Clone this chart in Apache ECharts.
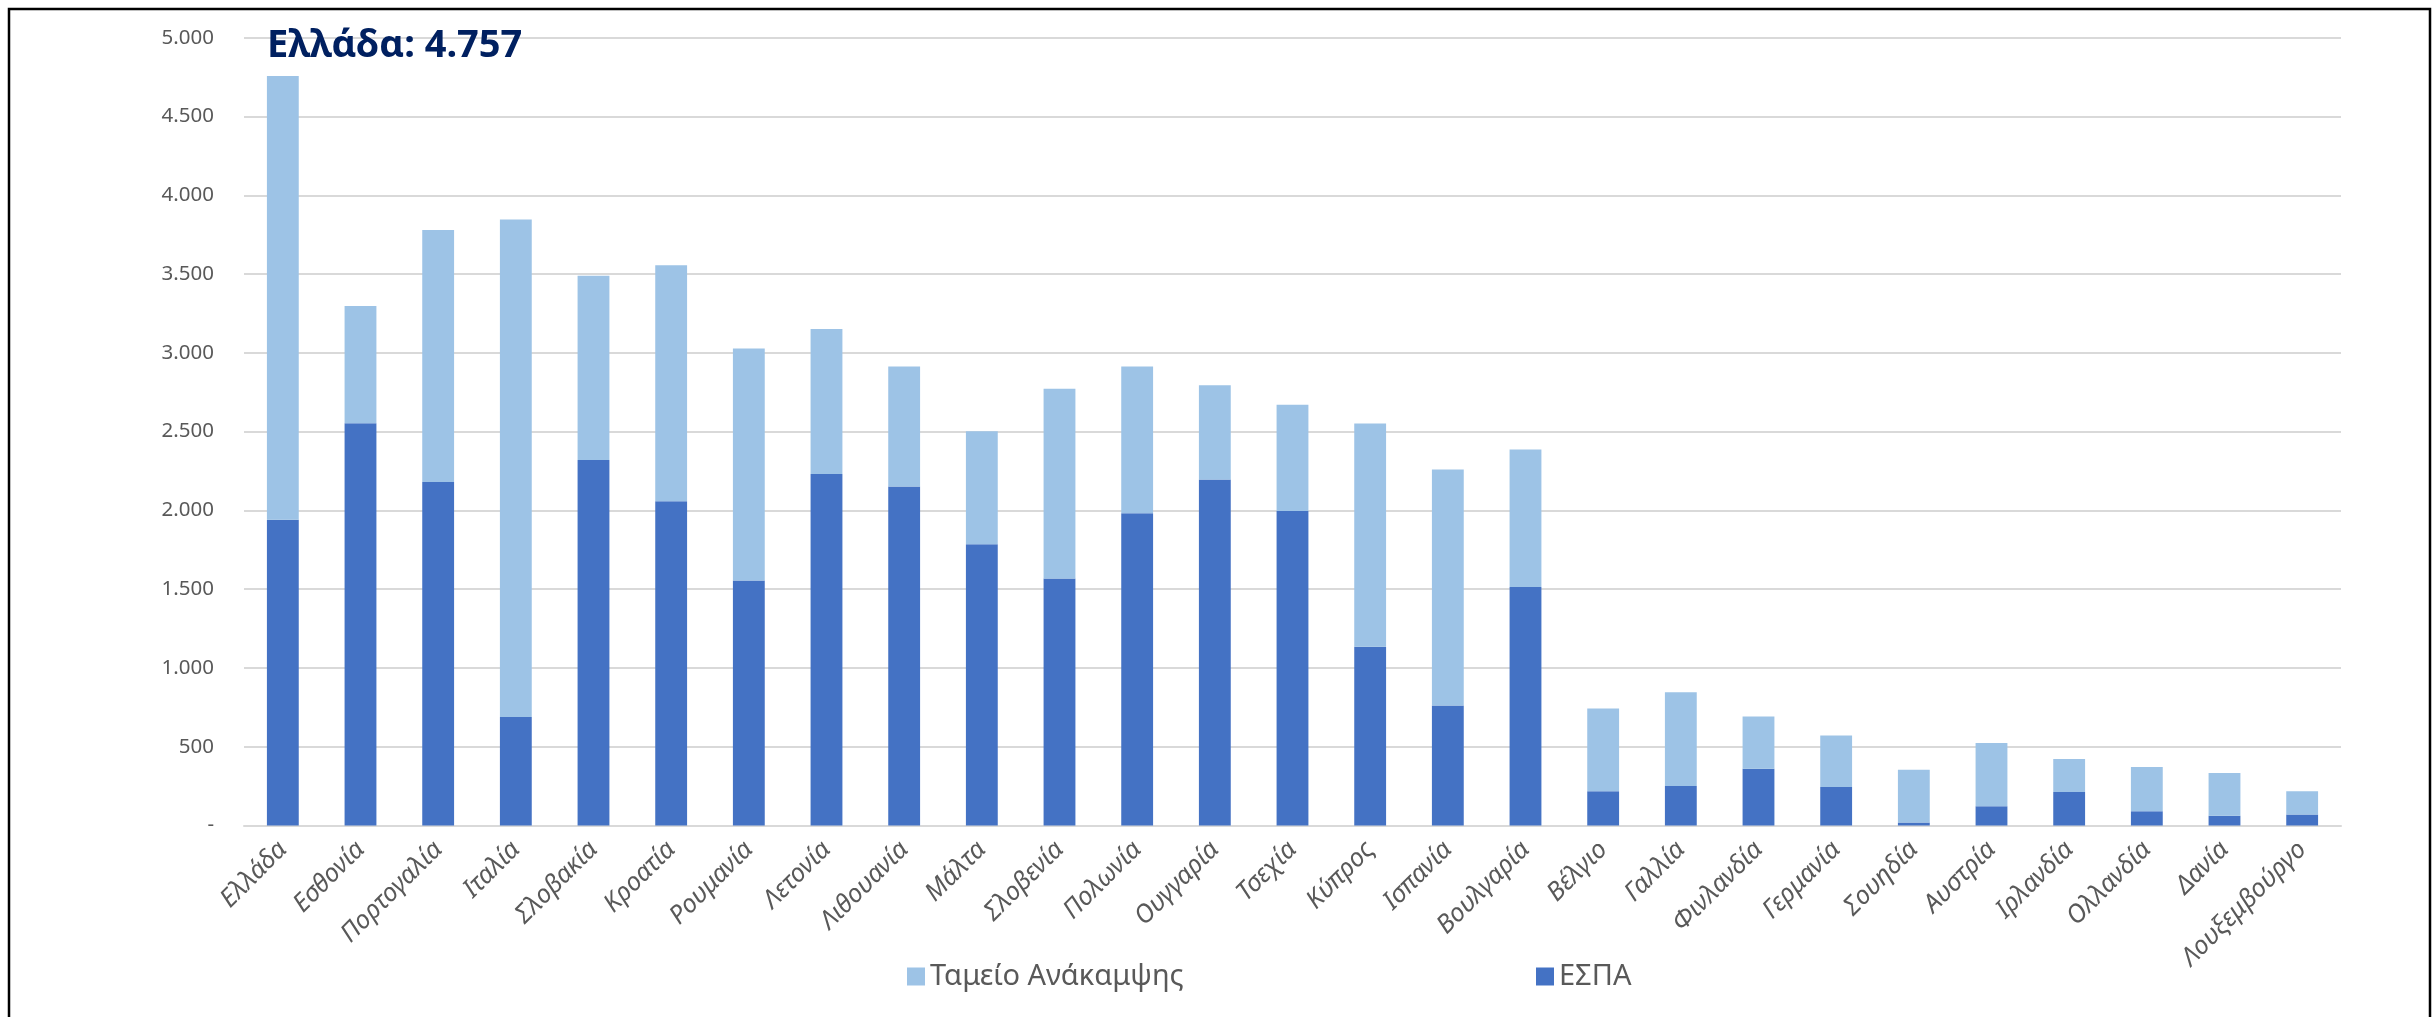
<!DOCTYPE html>
<html>
<head>
<meta charset="utf-8">
<script src="https://cdn.jsdelivr.net/npm/echarts@6/dist/echarts.min.js"></script>
<style>
html,body{margin:0;padding:0;background:#fff;}
#chart{width:2433px;height:1017px;}
</style>
</head>
<body>
<div id="chart"></div>
<script>
const categories = ['Ελλάδα','Εσθονία','Πορτογαλία','Ιταλία','Σλοβακία','Κροατία','Ρουμανία','Λετονία','Λιθουανία','Μάλτα','Σλοβενία','Πολωνία','Ουγγαρία','Τσεχία','Κύπρος','Ισπανία','Βουλγαρία','Βέλγιο','Γαλλία','Φινλανδία','Γερμανία','Σουηδία','Αυστρία','Ιρλανδία','Ολλανδία','Δανία','Λουξεμβούργο'];
const espa = [1941,2554,2181,689,2320,2058,1555,2231,2152,1786,1568,1982,2197,1997,1135,762,1514,218,252,360,245,19,123,214,91,63,70];
const recoveryFund = [2816,743,1599,3157,1169,1498,1473,920,762,717,1204,932,597,674,1416,1498,872,525,594,332,326,336,401,209,281,271,148];
const yTickLabels = ['-','500','1.000','1.500','2.000','2.500','3.000','3.500','4.000','4.500','5.000'];
const titleText = 'Ελλάδα: 4.757';

const chart = echarts.init(document.getElementById('chart'));
const FONT = 'Noto Sans';
chart.setOption({
  animation: false,
  backgroundColor: '#fff',
  textStyle: { fontFamily: FONT },
  title: {
    text: titleText,
    left: 262, top: 22,
    textStyle: { fontFamily: FONT, fontWeight: 'bold', fontSize: 38, color: '#002060' }
  },
  legend: [
    { data: ['Ταμείο Ανάκαμψης'], left: 902, top: 957, itemWidth: 18, itemHeight: 18, icon: 'rect', itemGap: 0,
      textStyle: { fontFamily: FONT, fontSize: 29, color: '#595959' } },
    { data: ['ΕΣΠΑ'], left: 1531, top: 957, itemWidth: 18, itemHeight: 18, icon: 'rect',
      textStyle: { fontFamily: FONT, fontSize: 29, color: '#595959' } }
  ],
  grid: { left: 244, right: 92, top: 37.7, bottom: 191.4, containLabel: false },
  xAxis: {
    type: 'category',
    data: categories,
    axisTick: { show: false },
    axisLine: { lineStyle: { color: '#D9D9D9', width: 2 } },
    axisLabel: { rotate: 45, interval: 0, margin: 20, fontFamily: FONT, fontStyle: 'italic', fontSize: 25.5, color: '#595959' }
  },
  yAxis: {
    type: 'value',
    min: 0, max: 5000, interval: 500,
    axisLine: { show: false },
    axisTick: { show: false },
    splitLine: { lineStyle: { color: '#D9D9D9', width: 2 } },
    axisLabel: {
      margin: 30, fontFamily: FONT, fontSize: 20.5, color: '#595959',
      formatter: (v) => yTickLabels[Math.round(v / 500)]
    }
  },
  series: [
    { name: 'ΕΣΠΑ', type: 'bar', stack: 'total', data: espa, barWidth: '41%',
      itemStyle: { color: '#4472C4' } },
    { name: 'Ταμείο Ανάκαμψης', type: 'bar', stack: 'total', data: recoveryFund, barWidth: '41%',
      itemStyle: { color: '#9DC3E6' } }
  ],
  graphic: [
    { type: 'rect', shape: { x: 9, y: 9, width: 2421, height: 1100 }, style: { fill: 'none', stroke: '#000', lineWidth: 2.5 }, silent: true }
  ]
});
</script>
</body>
</html>
